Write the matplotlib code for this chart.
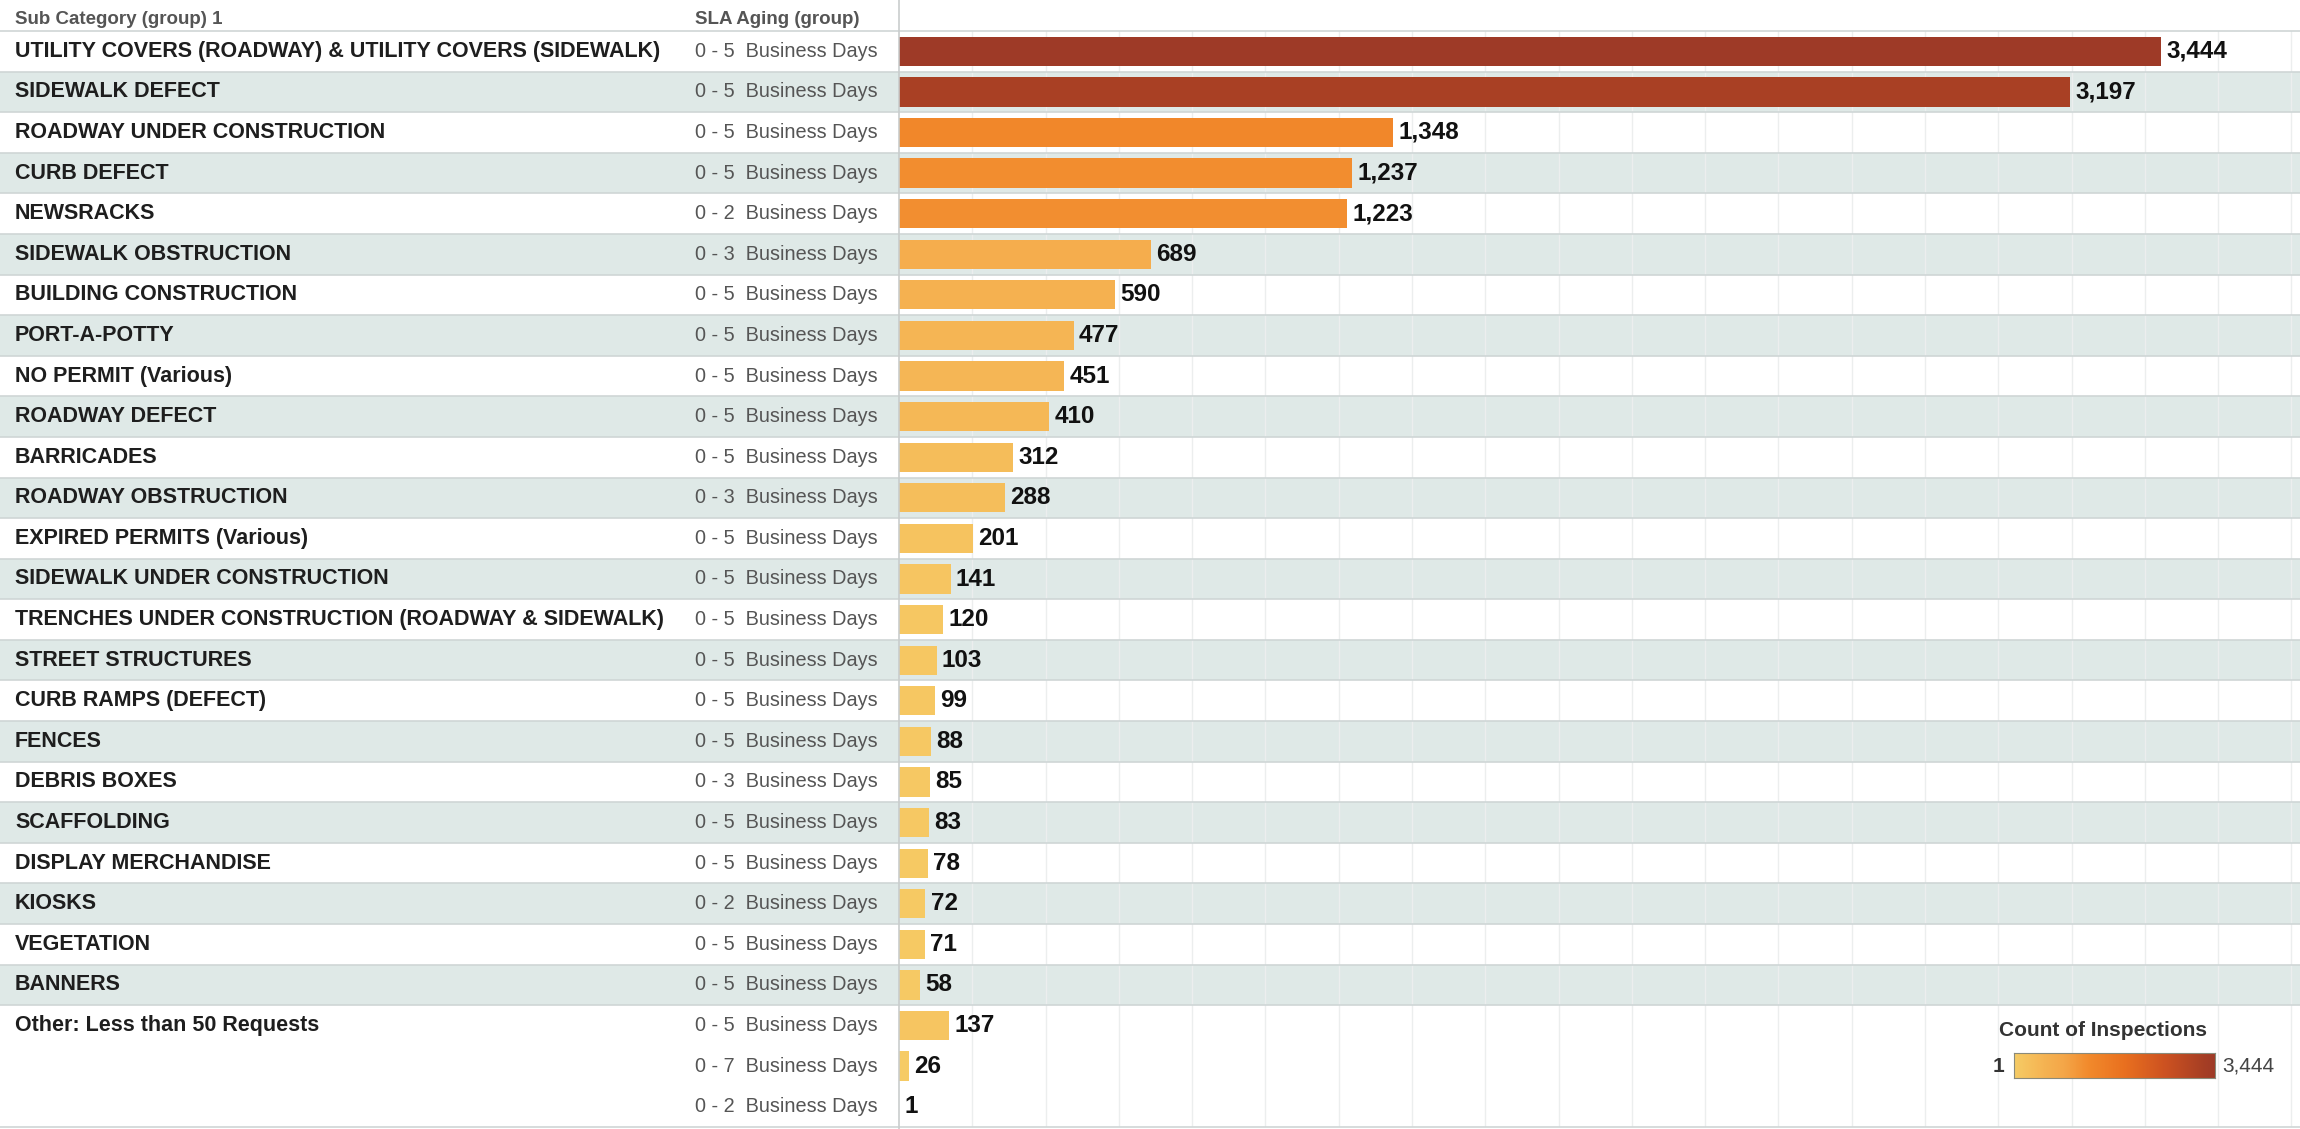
import matplotlib
matplotlib.use("Agg")
import matplotlib.pyplot as plt
import matplotlib.transforms as mtransforms
from matplotlib.colors import LinearSegmentedColormap, Normalize
from matplotlib.patches import Rectangle
import numpy as np

plt.rcParams['font.family'] = ['Liberation Sans', 'DejaVu Sans']

# one entry per bar row; "Other" spans three rows
categories = [
    "UTILITY COVERS (ROADWAY) & UTILITY COVERS (SIDEWALK)", "SIDEWALK DEFECT",
    "ROADWAY UNDER CONSTRUCTION", "CURB DEFECT", "NEWSRACKS", "SIDEWALK OBSTRUCTION",
    "BUILDING CONSTRUCTION", "PORT-A-POTTY", "NO PERMIT (Various)", "ROADWAY DEFECT",
    "BARRICADES", "ROADWAY OBSTRUCTION", "EXPIRED PERMITS (Various)",
    "SIDEWALK UNDER CONSTRUCTION", "TRENCHES UNDER CONSTRUCTION (ROADWAY & SIDEWALK)",
    "STREET STRUCTURES", "CURB RAMPS (DEFECT)", "FENCES", "DEBRIS BOXES", "SCAFFOLDING",
    "DISPLAY MERCHANDISE", "KIOSKS", "VEGETATION", "BANNERS",
    "Other: Less than 50 Requests", "Other: Less than 50 Requests", "Other: Less than 50 Requests",
]
sla = [
    "0 - 5", "0 - 5", "0 - 5", "0 - 5", "0 - 2", "0 - 3", "0 - 5", "0 - 5", "0 - 5", "0 - 5",
    "0 - 5", "0 - 3", "0 - 5", "0 - 5", "0 - 5", "0 - 5", "0 - 5", "0 - 5", "0 - 3", "0 - 5",
    "0 - 5", "0 - 2", "0 - 5", "0 - 5", "0 - 5", "0 - 7", "0 - 2",
]
counts = [3444, 3197, 1348, 1237, 1223, 689, 590, 477, 451, 410, 312, 288, 201, 141, 120,
          103, 99, 88, 85, 83, 78, 72, 71, 58, 137, 26, 1]

W, H = 2300, 1129
fig = plt.figure(figsize=(W / 100, H / 100), dpi=100)

def fx(px):
    return px / W

top_px, bot_px, split_px = 31, 1127, 899
ax = fig.add_axes([fx(split_px), 1 - bot_px / H, 1 - fx(split_px), (bot_px - top_px) / H])

cmap = LinearSegmentedColormap.from_list("og", [
    (0.0, "#f6cc66"), (0.15, "#f5b352"), (0.25, "#f4a648"), (0.37, "#f28a2c"),
    (0.55, "#e9701f"), (0.75, "#cd5221"), (0.93, "#a94024"), (1.0, "#9e3a27")])
norm = Normalize(1, max(counts))

n = len(counts)
y = np.arange(n)
ax.set_xlim(0, (W - split_px) / ((2161 - split_px) / 3444))
ax.set_ylim(n - 0.5, -0.5)
ax.axis("off")

# group rows (for shading / label placement)
groups = []
for i, c in enumerate(categories):
    if i == 0 or c != categories[i - 1]:
        groups.append([i, i])
    else:
        groups[-1][1] = i

trans = mtransforms.blended_transform_factory(fig.transFigure, ax.transData)
for gi, (a, b) in enumerate(groups):
    if gi % 2 == 1:
        ax.add_patch(Rectangle((0, a - 0.5), 1, b - a + 1, transform=trans,
                               facecolor="#dfe9e7", edgecolor="none", zorder=0, clip_on=False))
    ax.plot([0, 1], [b + 0.5, b + 0.5], transform=trans, color="#cfd6d6", lw=1.2,
            zorder=1, clip_on=False)
    ax.text(fx(15), a, categories[a], transform=trans, ha="left", va="center",
            fontsize=15.5, fontweight="bold", color="#1e1e1e")

for v in range(200, 4000, 200):
    ax.axvline(v, color="#eceeee", lw=1, zorder=0.5)

ax.barh(y, counts, height=0.72, color=cmap(norm(np.array(counts))), zorder=2)

for yi, v, s in zip(y, counts, sla):
    ax.text(v + 14, yi, f"{v:,}", ha="left", va="center", fontsize=17.5,
            fontweight="bold", color="#111111", zorder=3)
    ax.text(fx(695), yi, f"{s}  Business Days", transform=trans, ha="left", va="center",
            fontsize=14.3, color="#555555")

# header + frame lines
fig.add_artist(plt.Line2D([0, 1], [1 - top_px / H] * 2, color="#cfd6d6", lw=1.2))
fig.add_artist(plt.Line2D([fx(split_px)] * 2, [0, 1], color="#c9cdcd", lw=1.2))
hy = 1 - 19 / H
fig.text(fx(15), hy, "Sub Category (group) 1", ha="left", va="center", fontsize=13.5,
         fontweight="bold", color="#555555")
fig.text(fx(695), hy, "SLA Aging (group)", ha="left", va="center", fontsize=13.5,
         fontweight="bold", color="#555555")

# colour legend
cax = fig.add_axes([fx(2014), 1 - 1078 / H, fx(201), 25 / H])
cax.imshow(np.linspace(0, 1, 256)[None, :], aspect="auto", cmap=cmap)
cax.set_xticks([])
cax.set_yticks([])
for sp in cax.spines.values():
    sp.set_color("#8a8a7a")
fig.text(fx(2103), 1 - 1031 / H, "Count of Inspections", ha="center", va="center",
         fontsize=15, fontweight="bold", color="#333333")
fig.text(fx(2004), 1 - 1066 / H, "1", ha="right", va="center", fontsize=15,
         fontweight="bold", color="#333333")
fig.text(fx(2222), 1 - 1066 / H, f"{max(counts):,}", ha="left", va="center",
         fontsize=15, color="#444444")

fig.savefig("out.png", dpi=100, facecolor="white")
